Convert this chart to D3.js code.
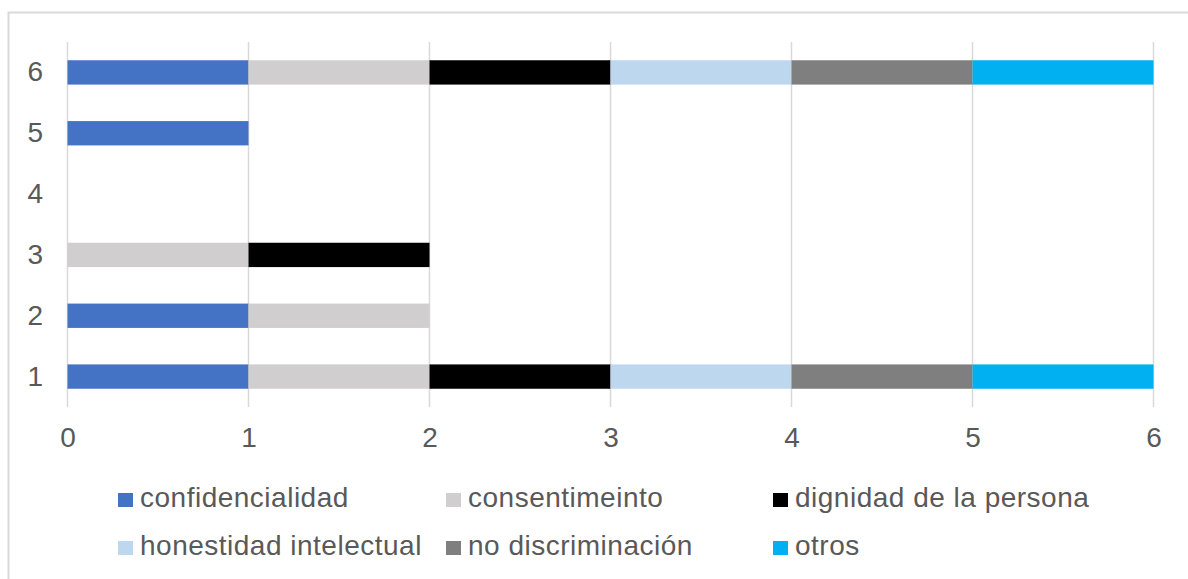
<!DOCTYPE html>
<html>
<head>
<meta charset="utf-8">
<script src="https://cdn.jsdelivr.net/npm/d3@7"></script>
<style>
  html, body { margin: 0; padding: 0; background: #fff; }
  svg { display: block; font-family: "Liberation Sans", Arial, sans-serif; }
</style>
</head>
<body>
<svg id="chart" width="1188" height="579"></svg>
<script>
// Categories, bottom to top
const categories = ["1", "2", "3", "4", "5", "6"];
const seriesNames = ["confidencialidad", "consentimeinto", "dignidad de la persona",
                     "honestidad intelectual", "no discriminación", "otros"];
const seriesColors = ["#4472C4", "#D0CECE", "#000000", "#BDD7EE", "#7F7F7F", "#00B0F0"];
// One value per category for each series
const confidencialidad = [1, 1, 0, 0, 1, 1];
const consentimeinto   = [1, 1, 1, 0, 0, 1];
const dignidad         = [1, 0, 1, 0, 0, 1];
const honestidad       = [1, 0, 0, 0, 0, 1];
const noDiscriminacion = [1, 0, 0, 0, 0, 1];
const otros            = [1, 0, 0, 0, 0, 1];
const xTicks = [0, 1, 2, 3, 4, 5, 6];

const seriesValues = [confidencialidad, consentimeinto, dignidad, honestidad, noDiscriminacion, otros];
const rows = categories.map((c, i) => {
  const r = { cat: c };
  seriesNames.forEach((s, j) => { r[s] = seriesValues[j][i]; });
  return r;
});
const stacked = d3.stack().keys(seriesNames)(rows);

const svg = d3.select("#chart");
const textColor = "#595959";
const gridColor = "#D9D9D9";
const fontSize = 28;

// Chart frame
svg.append("rect")
  .attr("x", 8.5).attr("y", 12.5)
  .attr("width", 1190).attr("height", 580)
  .attr("fill", "none").attr("stroke", gridColor).attr("stroke-width", 2);

const plot = { left: 67.5, right: 1153.5, top: 42, bottom: 407 };

const x = d3.scaleLinear().domain([0, 6]).range([plot.left, plot.right]);
const y = d3.scaleBand().domain(categories.slice().reverse())
  .range([plot.top, plot.bottom]).paddingInner(0.6).paddingOuter(0.3);

// Vertical gridlines
svg.append("g").selectAll("line").data(xTicks).join("line")
  .attr("x1", d => x(d)).attr("x2", d => x(d))
  .attr("y1", plot.top).attr("y2", plot.bottom)
  .attr("stroke", gridColor).attr("stroke-width", 1.5);

// Stacked bars
svg.append("g").selectAll("g").data(stacked).join("g")
  .attr("fill", (d, i) => seriesColors[i])
  .selectAll("rect").data(d => d.filter(p => p[1] - p[0] > 0)).join("rect")
  .attr("x", d => x(d[0]))
  .attr("width", d => x(d[1]) - x(d[0]))
  .attr("y", d => y(d.data.cat))
  .attr("height", y.bandwidth());

// Category axis labels
const yAxis = d3.axisLeft(y).tickSize(0).tickPadding(0);
const yg = svg.append("g").attr("transform", "translate(43,0)").call(yAxis);
yg.select(".domain").remove();
yg.selectAll("text").attr("fill", textColor).attr("font-size", fontSize)
  .attr("font-family", "Liberation Sans, Arial, sans-serif");

// Value axis labels
const xAxis = d3.axisBottom(x).tickValues(xTicks).tickSize(0).tickPadding(0).tickFormat(d3.format("d"));
const xg = svg.append("g").attr("transform", "translate(0,427)").call(xAxis);
xg.select(".domain").remove();
xg.selectAll("text").attr("fill", textColor).attr("font-size", fontSize)
  .attr("font-family", "Liberation Sans, Arial, sans-serif");

// Legend: three columns, two rows
const legendCols = [118, 446, 773];
const legendRows = [507, 555];
const legend = svg.append("g").selectAll("g").data(seriesNames).join("g")
  .attr("transform", (d, i) => `translate(${legendCols[i % 3]},${legendRows[Math.floor(i / 3)]})`);
legend.append("rect")
  .attr("x", 0).attr("y", -14).attr("width", 15).attr("height", 14)
  .attr("fill", (d, i) => seriesColors[i]);
legend.append("text")
  .attr("x", 22).attr("y", 0)
  .attr("fill", textColor).attr("font-size", fontSize)
  .attr("letter-spacing", 0.5)
  .text(d => d);
</script>
</body>
</html>
